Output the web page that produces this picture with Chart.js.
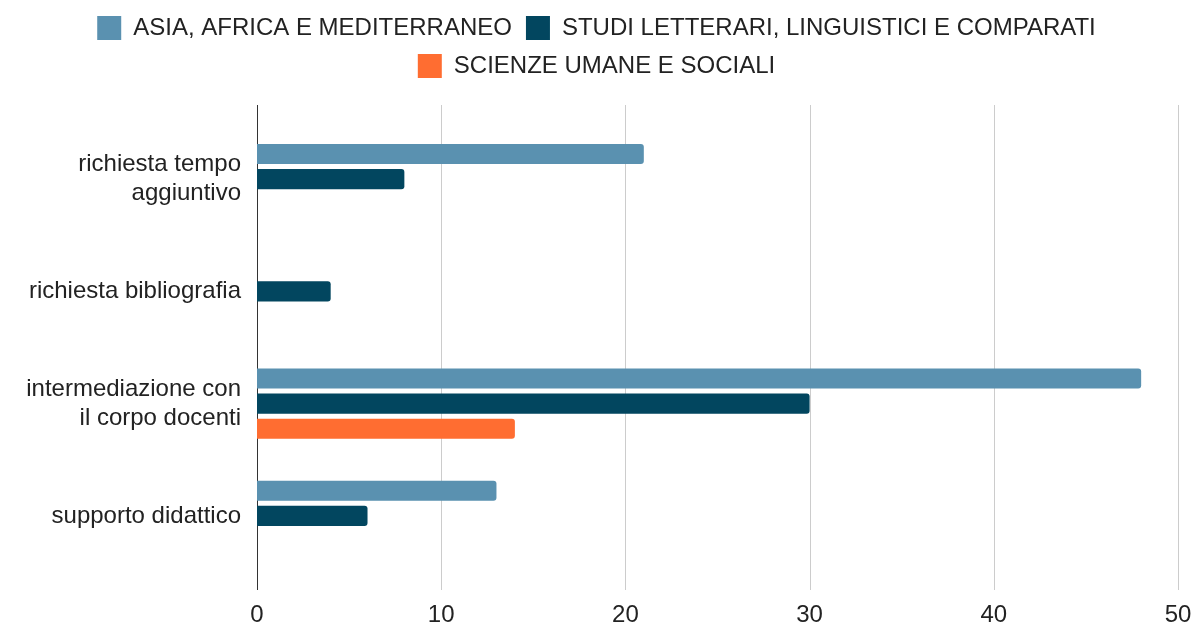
<!DOCTYPE html>
<html>
<head>
<meta charset="utf-8">
<script src="https://cdn.jsdelivr.net/npm/chart.js@4"></script>
<style>
  body { margin: 0; background: #fff; }
  #wrap { width: 1193px; height: 627px; }
</style>
</head>
<body>
<div id="wrap"><canvas id="chart"></canvas></div>
<script>
const categories = [
  ["richiesta tempo", "aggiuntivo"],
  "richiesta bibliografia",
  ["intermediazione con", "il corpo docenti"],
  "supporto didattico"
];
const seriesNames = [
  "ASIA, AFRICA E MEDITERRANEO",
  "STUDI LETTERARI, LINGUISTICI E COMPARATI",
  "SCIENZE UMANE E SOCIALI"
];
const asiaValues = [21, 0, 48, 13];
const studiValues = [8, 4, 30, 6];
const scienzeValues = [0, 0, 14, 0];
const xTicks = [0, 10, 20, 30, 40, 50];

const colors = ["#5a91b0", "#02465f", "#ff6d31"];
const FONT = "'Liberation Sans', Arial, sans-serif";

// grid lines reach a bit past the bar band, like the original
const gridExt = {
  id: "gridExt",
  beforeDatasetsDraw(chart) {
    const { ctx, chartArea, scales } = chart;
    const x = scales.x;
    ctx.save();
    ctx.lineWidth = 1;
    xTicks.forEach((v) => {
      const px = Math.round(x.getPixelForValue(v)) + 0.5;
      ctx.strokeStyle = v === 0 ? "#333333" : "#cccccc";
      ctx.beginPath();
      ctx.moveTo(px, chartArea.top - 18);
      ctx.lineTo(px, chartArea.bottom + 18);
      ctx.stroke();
    });
    ctx.restore();
  }
};

const seriesValues = [asiaValues, studiValues, scienzeValues];

new Chart(document.getElementById("chart"), {
  type: "bar",
  data: {
    labels: categories,
    datasets: seriesNames.map((name, i) => ({
      label: name,
      data: seriesValues[i],
      backgroundColor: colors[i],
      borderRadius: 3,
      borderSkipped: "start",
      categoryPercentage: 0.67,
      barPercentage: 0.8
    }))
  },
  options: {
    indexAxis: "y",
    responsive: true,
    maintainAspectRatio: false,
    animation: false,
    layout: { padding: { top: 2, right: 0, bottom: 0, left: 0 } },
    plugins: {
      legend: {
        position: "top",
        labels: {
          boxWidth: 24,
          boxHeight: 24,
          padding: 14,
          color: "#222222",
          font: { family: FONT, size: 24 }
        }
      },
      // empty title used as a spacer between legend and plot
      title: {
        display: true,
        text: "",
        weight: 0,
        font: { size: 1, lineHeight: 1 },
        padding: { top: 0, bottom: 34 }
      },
      tooltip: { enabled: false }
    },
    scales: {
      x: {
        min: 0,
        max: 50,
        ticks: {
          stepSize: 10,
          padding: 29,
          color: "#222222",
          font: { family: FONT, size: 24 }
        },
        grid: { display: false, drawTicks: false },
        border: { display: false },
        afterFit(scale) {
          scale.paddingRight = 15;
          scale.height = 55;
        }
      },
      y: {
        ticks: {
          padding: 16,
          color: "#222222",
          font: { family: FONT, size: 24 }
        },
        grid: { display: false, drawTicks: false },
        border: { display: false },
        afterFit(scale) {
          scale.width = 257;
          scale.paddingTop = 0;
          scale.paddingBottom = 0;
        }
      }
    }
  },
  plugins: [gridExt]
});
</script>
</body>
</html>
